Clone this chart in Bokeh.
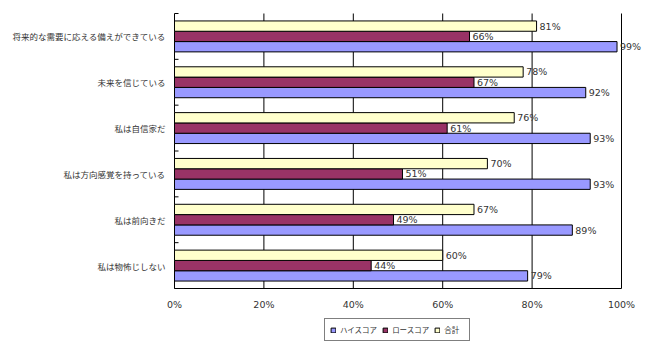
from bokeh.plotting import figure
from bokeh.models import ColumnDataSource, Range1d, Legend, LegendItem
from bokeh.core.properties import value
from bokeh.embed import file_html
from bokeh.resources import INLINE

categories = ["将来的な需要に応える備えができている", "未来を信じている", "私は自信家だ",
              "私は方向感覚を持っている", "私は前向きだ", "私は物怖じしない"]
high = [0.99, 0.92, 0.93, 0.93, 0.89, 0.79]
low = [0.66, 0.67, 0.61, 0.51, 0.49, 0.44]
total = [0.81, 0.78, 0.76, 0.70, 0.67, 0.60]
series_names = ["ハイスコア", "ロースコア", "合計"]
x_ticks = [0, 0.2, 0.4, 0.6, 0.8, 1.0]
x_tick_labels = ["0%", "20%", "40%", "60%", "80%", "100%"]

n = len(categories)
ypos = [n - 1 - i for i in range(n)]
bounds = [v - 0.5 for v in range(n + 1)]
bh = 0.225

# plot area: 0..1 spans x 174..621 px; categories span y 13..288 px
px_per_x = 447.0
px_per_y = 275.0 / n
p = figure(width=650, height=351, output_backend="svg", toolbar_location=None,
           x_range=Range1d(-174.0 / px_per_x, 476.0 / px_per_x),
           y_range=Range1d(-0.5 - 63.0 / px_per_y, n - 0.5 + 13.0 / px_per_y),
           x_axis_location=None, y_axis_location=None,
           min_border_left=0, min_border_right=0, min_border_top=0, min_border_bottom=0)
p.outline_line_color = None
p.background_fill_color = "white"
p.border_fill_color = "white"
p.xgrid.visible = False
p.ygrid.visible = False

jp = "Noto Sans CJK JP"
num_font = "DejaVu Sans"
txt = "#333333"

def mk(vals, off):
    return ColumnDataSource(dict(y=[v + off for v in ypos], x=vals,
                                 lbl=[f"{round(v*100)}%" for v in vals]))

src_t = mk(total, bh)
src_l = mk(low, 0)
src_h = mk(high, -bh)

# grid lines (incl. value axis line at 0% and right edge at 100%) and bottom line
p.segment(x0=x_ticks, x1=x_ticks, y0=[bounds[0]] * len(x_ticks), y1=[bounds[-1]] * len(x_ticks),
          line_color="#000000", line_width=1)
p.segment(x0=[x_ticks[0]], x1=[x_ticks[-1]], y0=[bounds[0]], y1=[bounds[0]],
          line_color="#000000", line_width=1)
# category boundary ticks on the category axis
p.segment(x0=[0] * len(bounds), x1=[4.0 / px_per_x] * len(bounds), y0=bounds, y1=bounds,
          line_color="#000000", line_width=1)

r_h = p.hbar(y="y", right="x", left=0, height=bh, source=src_h, fill_color="#9999FF", line_color="#000000", line_width=1)
r_l = p.hbar(y="y", right="x", left=0, height=bh, source=src_l, fill_color="#993366", line_color="#000000", line_width=1)
r_t = p.hbar(y="y", right="x", left=0, height=bh, source=src_t, fill_color="#FFFFCC", line_color="#000000", line_width=1)

for s in (src_t, src_l, src_h):
    p.text(x="x", y="y", text="lbl", source=s, x_offset=3,
           text_baseline="middle", text_align="left", text_font=value(num_font),
           text_font_size="9.5px", text_color=txt)

# x tick labels
p.text(x=x_ticks, y=[bounds[0] - 16.0 / px_per_y] * len(x_ticks), text=x_tick_labels,
       text_baseline="middle", text_align="center", text_font=value(num_font),
       text_font_size="9.5px", text_color=txt)

# category labels
p.text(x=[0] * n, y=ypos, text=categories, x_offset=-9,
       text_baseline="middle", text_align="right", text_font=value(jp),
       text_font_size="8.5px", text_color=txt)

legend = Legend(items=[LegendItem(label=series_names[0], renderers=[r_h]),
                       LegendItem(label=series_names[1], renderers=[r_l]),
                       LegendItem(label=series_names[2], renderers=[r_t])],
                orientation="horizontal", location=(324, 10))
legend.glyph_width = 6
legend.glyph_height = 6
legend.label_standoff = 4
legend.spacing = 5
legend.padding = 5
legend.margin = 0
legend.label_text_font = jp
legend.label_text_font_size = "7.5px"
legend.label_text_color = txt
legend.label_height = 8
legend.label_text_baseline = "middle"
legend.border_line_color = "#000000"
legend.border_line_width = 1
legend.background_fill_alpha = 1
p.add_layout(legend, "center")

open("out.html", "w").write(file_html(p, INLINE))
